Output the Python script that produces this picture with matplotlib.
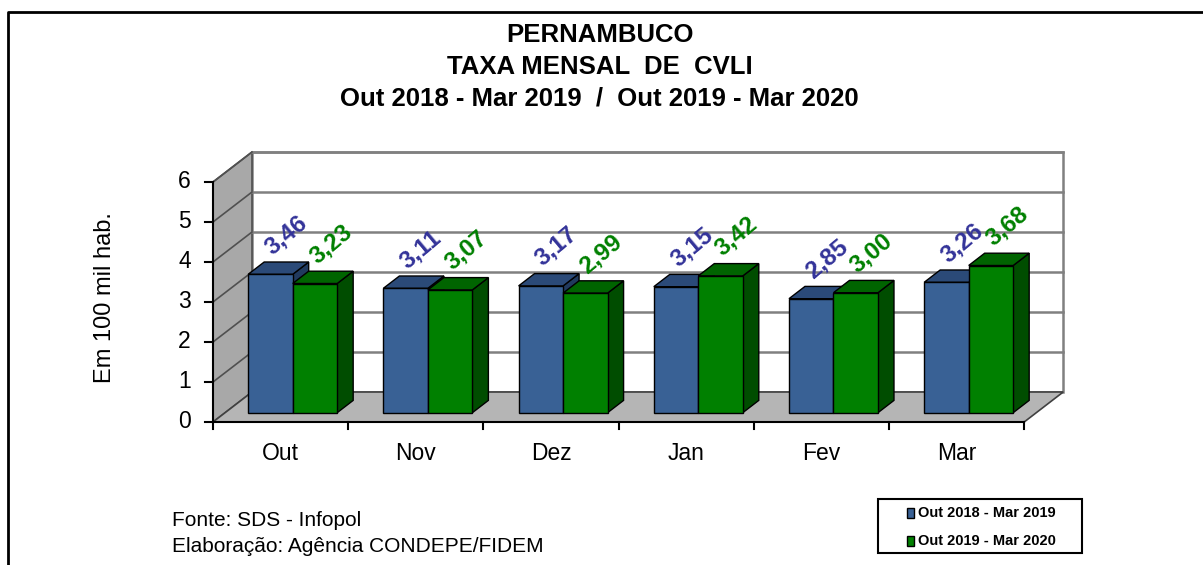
import matplotlib
matplotlib.use('Agg')
import matplotlib.pyplot as plt
from matplotlib.patches import Polygon, Rectangle
from matplotlib.lines import Line2D

plt.rcParams['font.family'] = ['Liberation Sans', 'DejaVu Sans']

# dados (taxa mensal de CVLI por 100 mil hab.)
meses = ['Out', 'Nov', 'Dez', 'Jan', 'Fev', 'Mar']
taxa_2019 = [3.46, 3.11, 3.17, 3.15, 2.85, 3.26]
taxa_2020 = [3.23, 3.07, 2.99, 3.42, 3.00, 3.68]
series = ['Out 2018 - Mar 2019', 'Out 2019 - Mar 2020']
y_ticks = [0, 1, 2, 3, 4, 5, 6]

cores_frente = ['#396195', '#008000']
cores_topo = ['#2b4a78', '#006400']
cores_lado = ['#213a5e', '#004d00']
cores_rotulo = ['#333399', '#008000']

W, H = 1203, 565
PX_CAT = 135.2   # pixels per category
PX_VAL = 40.0    # pixels per unit
DX = 39 / PX_CAT  # depth offset of the 3d walls
DY = 30 / PX_VAL
F0, F1 = 0.31, 0.72  # bar depth position
BW = 44.5 / PX_CAT

def fx(px):
    return px / W

def fy(py):
    return 1 - py / H

fig = plt.figure(figsize=(W / 100, H / 100), dpi=100)
ax = fig.add_axes([0, 0, 1, 1])
ax.set_xlim(-0.5 - 213 / PX_CAT, -0.5 + (W - 213) / PX_CAT)
ax.set_ylim((422 - H) / PX_VAL, 422 / PX_VAL)
ax.axis('off')

x0, x1 = -0.5, len(meses) - 0.5
ymax = y_ticks[-1]
grid_c = '#808080'

# back wall
ax.add_patch(Polygon([(x0 + DX, DY), (x1 + DX, DY), (x1 + DX, ymax + DY), (x0 + DX, ymax + DY)],
                     closed=True, facecolor='white', edgecolor=grid_c, lw=1.8, zorder=1))
# left wall
ax.add_patch(Polygon([(x0, 0), (x0 + DX, DY), (x0 + DX, ymax + DY), (x0, ymax)],
                     closed=True, facecolor='#a8a8a8', edgecolor='#505050', lw=1.2, zorder=1))
for k in y_ticks[1:]:
    ax.plot([x0 + DX, x1 + DX], [k + DY, k + DY], color=grid_c, lw=1.8, zorder=2)
    ax.plot([x0, x0 + DX], [k, k + DY], color='#505050', lw=1.2, zorder=2)
# floor
ax.add_patch(Polygon([(x0, 0), (x1, 0), (x1 + DX, DY), (x0 + DX, DY)],
                     closed=True, facecolor='#b5b5b5', edgecolor='#404040', lw=1.2, zorder=3))

# axes lines and ticks
ax.plot([x0, x0], [0, ymax], color='black', lw=1.5, zorder=4)
ax.plot([x0, x1], [0, 0], color='black', lw=1.5, zorder=4)
for k in y_ticks:
    ax.plot([x0 - 8 / PX_CAT, x0], [k, k], color='black', lw=1.5, zorder=4)
    ax.text(x0 - 22 / PX_CAT, k, str(k), ha='right', va='center', fontsize=16.5)
for i in range(len(meses) + 1):
    ax.plot([x0 + i, x0 + i], [0, -7 / PX_VAL], color='black', lw=1.5, zorder=4)
for i, m in enumerate(meses):
    ax.text(i, -31 / PX_VAL, m, ha='center', va='center', fontsize=16.5)


def barra3d(xl, v, s, z):
    ox, oy = F0 * DX, F0 * DY
    dx, dy = (F1 - F0) * DX, (F1 - F0) * DY
    xa, xb = xl + ox, xl + BW + ox
    lado = [(xb, oy), (xb + dx, oy + dy), (xb + dx, oy + v + dy), (xb, oy + v)]
    topo = [(xa, oy + v), (xb, oy + v), (xb + dx, oy + v + dy), (xa + dx, oy + v + dy)]
    frente = [(xa, oy), (xb, oy), (xb, oy + v), (xa, oy + v)]
    for pts, c in [(lado, cores_lado[s]), (topo, cores_topo[s]), (frente, cores_frente[s])]:
        ax.add_patch(Polygon(pts, closed=True, facecolor=c, edgecolor='black', lw=1.0, zorder=z))
    rot = f'{v:.2f}'.replace('.', ',')
    ax.text(xa + BW / 2 + 5 / PX_CAT, oy + v + dy + 3 / PX_VAL, rot, rotation=40,
            rotation_mode='anchor', ha='left', va='bottom', fontsize=17.5, fontweight='bold',
            color=cores_rotulo[s], zorder=20)


for i in range(len(meses)):
    barra3d(i - BW, taxa_2019[i], 0, 5 + 2 * i)
    barra3d(i, taxa_2020[i], 1, 6 + 2 * i)

# titles
tkw = dict(ha='center', va='center', fontsize=18.5, fontweight='bold')
fig.text(fx(600), fy(35), 'PERNAMBUCO', **tkw)
fig.text(fx(600), fy(67), 'TAXA MENSAL  DE  CVLI', **tkw)
fig.text(fx(599), fy(99), 'Out 2018 - Mar 2019  /  Out 2019 - Mar 2020', **tkw)

fig.text(fx(105), fy(298), 'Em 100 mil hab.', rotation=90, ha='center', va='center', fontsize=17)

fig.text(fx(172), fy(521), 'Fonte: SDS - Infopol', ha='left', va='center', fontsize=15)
fig.text(fx(172), fy(547), 'Elaboração: Agência CONDEPE/FIDEM', ha='left', va='center', fontsize=15)

# legend
fig.patches.append(Rectangle((fx(878), fy(553)), fx(1082) - fx(878), fy(499) - fy(553),
                             transform=fig.transFigure, facecolor='white', edgecolor='black', lw=1.5))
for s, yc in zip(range(2), [513, 541]):
    fig.patches.append(Rectangle((fx(907), fy(yc + 5)), fx(7), fy(0) - fy(10),
                                 transform=fig.transFigure, facecolor=cores_frente[s],
                                 edgecolor='black', lw=1.0))
    fig.text(fx(918), fy(yc), series[s], ha='left', va='center', fontsize=10.5, fontweight='bold')

# outer border
fig.add_artist(Line2D([fx(8), fx(8), fx(W + 5)], [fy(H + 5), fy(12), fy(12)],
                      transform=fig.transFigure, color='black', lw=2))

fig.savefig('out.png', dpi=100)
